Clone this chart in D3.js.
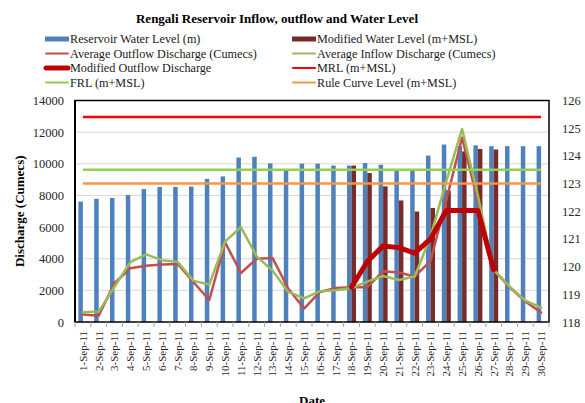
<!DOCTYPE html>
<html>
<head>
<meta charset="utf-8">
<script src="https://cdn.jsdelivr.net/npm/d3@7"></script>
<style>
  body { margin: 0; background: #fff; }
  svg { display: block; font-family: "Liberation Serif", "Times New Roman", serif; }
</style>
</head>
<body>
<div id="chart"></div>
<script>
// categories
var dates = ["1-Sep-11","2-Sep-11","3-Sep-11","4-Sep-11","5-Sep-11","6-Sep-11","7-Sep-11","8-Sep-11","9-Sep-11","10-Sep-11",
  "11-Sep-11","12-Sep-11","13-Sep-11","14-Sep-11","15-Sep-11","16-Sep-11","17-Sep-11","18-Sep-11","19-Sep-11","20-Sep-11",
  "21-Sep-11","22-Sep-11","23-Sep-11","24-Sep-11","25-Sep-11","26-Sep-11","27-Sep-11","28-Sep-11","29-Sep-11","30-Sep-11"];

// right axis (m+MSL)
var waterLevel = [122.35,122.45,122.48,122.59,122.80,122.88,122.88,122.89,123.17,123.26,
  123.94,123.97,123.73,123.48,123.72,123.72,123.65,123.65,123.74,123.68,
  123.50,123.48,124.01,124.41,124.35,124.38,124.35,124.35,124.35,124.35];
var modifiedLevel = [null,null,null,null,null,null,null,null,null,null,
  null,null,null,null,null,null,null,123.65,123.38,122.90,
  122.39,121.99,122.12,122.75,124.16,124.25,124.23,null,null,null];
var mrl = 125.4, frl = 123.5, ruleCurve = 123.0;

// left axis (cumecs)
var outflow = [480,400,2450,3400,3550,3630,3670,2510,1390,5030,
  3100,4000,4050,2100,850,1900,2150,2200,2200,3200,
  3130,2880,3850,7700,11650,7600,3300,2200,1300,600];
var inflow = [620,660,2230,3780,4270,3910,3800,2600,2370,5090,
  6000,4150,3250,1900,1500,1950,2000,2150,2550,2910,
  2660,2880,5400,8900,12200,8000,3300,2250,1350,900];
var modifiedOutflow = [null,null,null,null,null,null,null,null,null,null,
  null,null,null,null,null,null,null,2200,3820,4810,
  4700,4350,5250,7050,7050,7050,3300,null,null,null];

var leftTicks = [0,2000,4000,6000,8000,10000,12000,14000];
var rightTicks = [118,119,120,121,122,123,124,125,126];

var W = 585, H = 403;
var mLeft = 75, mRight = 549, mTop = 100.5, mBottom = 322;

var svg = d3.select("#chart").append("svg")
  .attr("width", W).attr("height", H);

var x = d3.scaleBand().domain(dates).range([mLeft, mRight]).padding(0);
var yL = d3.scaleLinear().domain([0, 14000]).range([mBottom, mTop]);
var yR = d3.scaleLinear().domain([118, 126]).range([mBottom, mTop]);
var bw = x.bandwidth() * 0.285;
function cx(d) { return x(d) + x.bandwidth() / 2; }

// gridlines
svg.append("g").selectAll("line")
  .data(leftTicks.slice(1, -1))
  .enter().append("line")
  .attr("x1", mLeft).attr("x2", mRight)
  .attr("y1", function(d) { return yL(d); })
  .attr("y2", function(d) { return yL(d); })
  .attr("stroke", "#d9d9d9").attr("stroke-width", 1);

// bars
svg.append("g").selectAll("rect")
  .data(waterLevel)
  .enter().append("rect")
  .attr("x", function(d, i) { return cx(dates[i]) - bw; })
  .attr("y", function(d) { return yR(d); })
  .attr("width", bw)
  .attr("height", function(d) { return mBottom - yR(d); })
  .attr("fill", "#4f81bd");

svg.append("g").selectAll("rect")
  .data(modifiedLevel.map(function(d, i) { return {v: d, i: i}; }).filter(function(d) { return d.v !== null; }))
  .enter().append("rect")
  .attr("x", function(d) { return cx(dates[d.i]); })
  .attr("y", function(d) { return yR(d.v); })
  .attr("width", bw)
  .attr("height", function(d) { return mBottom - yR(d.v); })
  .attr("fill", "#772c2a");

// lines
function seriesLine(vals, color, width) {
  var line = d3.line()
    .defined(function(d) { return d !== null; })
    .x(function(d, i) { return cx(dates[i]); })
    .y(function(d) { return yL(d); });
  svg.append("path")
    .datum(vals)
    .attr("d", line)
    .attr("fill", "none")
    .attr("stroke", color)
    .attr("stroke-width", width)
    .attr("stroke-linejoin", "round")
    .attr("stroke-linecap", "round");
}
seriesLine(outflow, "#c0504d", 2.5);
seriesLine(inflow, "#9bbb59", 2.5);
seriesLine(modifiedOutflow, "#c00000", 5);

function levelLine(v, color) {
  svg.append("line")
    .attr("x1", cx(dates[0])).attr("x2", cx(dates[dates.length - 1]))
    .attr("y1", yR(v)).attr("y2", yR(v))
    .attr("stroke", color).attr("stroke-width", 2.5);
}
levelLine(mrl, "#ff0000");
levelLine(frl, "#92d050");
levelLine(ruleCurve, "#f79646");

// frame
svg.append("rect")
  .attr("x", mLeft).attr("y", mTop)
  .attr("width", mRight - mLeft).attr("height", mBottom - mTop)
  .attr("fill", "none").attr("stroke", "#000").attr("stroke-width", 1.5);
svg.append("line")
  .attr("x1", mLeft).attr("x2", mLeft).attr("y1", mTop).attr("y2", mBottom)
  .attr("stroke", "#000").attr("stroke-width", 2);

// axes
var xAxis = svg.append("g")
  .attr("transform", "translate(0," + mBottom + ")")
  .call(d3.axisBottom(x).tickSize(0).tickPadding(0));
xAxis.select(".domain").remove();
xAxis.selectAll("text")
  .attr("transform", "rotate(-90)")
  .attr("x", -9).attr("y", 0).attr("dy", "0.35em")
  .style("text-anchor", "end")
  .attr("font-size", 11).attr("fill", "#262626")
  .attr("font-family", "Liberation Serif");
svg.append("g").selectAll("line")
  .data(d3.range(dates.length + 1))
  .enter().append("line")
  .attr("x1", function(k) { return mLeft + k * x.bandwidth(); })
  .attr("x2", function(k) { return mLeft + k * x.bandwidth(); })
  .attr("y1", mBottom).attr("y2", mBottom + 5)
  .attr("stroke", "#a6a6a6");

var yAxisL = svg.append("g")
  .attr("transform", "translate(" + mLeft + ",0)")
  .call(d3.axisLeft(yL).tickValues(leftTicks).tickSize(0).tickPadding(11).tickFormat(d3.format("d")));
yAxisL.select(".domain").remove();
yAxisL.selectAll("text").attr("font-size", 12.5).attr("fill", "#262626").attr("font-family", "Liberation Serif");

var yAxisR = svg.append("g")
  .attr("transform", "translate(" + mRight + ",0)")
  .call(d3.axisRight(yR).tickValues(rightTicks).tickSize(0).tickPadding(13).tickFormat(d3.format("d")));
yAxisR.select(".domain").remove();
yAxisR.selectAll("text").attr("font-size", 12.5).attr("fill", "#262626").attr("font-family", "Liberation Serif");

// titles
svg.append("text")
  .attr("x", 277).attr("y", 23)
  .attr("text-anchor", "middle")
  .attr("font-size", 13).attr("font-weight", "bold")
  .text("Rengali Reservoir Inflow, outflow and Water Level");

svg.append("text")
  .attr("transform", "translate(24," + ((mTop + mBottom) / 2) + ") rotate(-90)")
  .attr("text-anchor", "middle")
  .attr("font-size", 13).attr("font-weight", "bold")
  .text("Discharge (Cumecs)");

svg.append("text")
  .attr("x", (mLeft + mRight) / 2).attr("y", 405)
  .attr("text-anchor", "middle")
  .attr("font-size", 13).attr("font-weight", "bold")
  .text("Date");

// legend
var legend = [
  {name: "Reservoir Water Level (m)", type: "rect", color: "#4f81bd", col: 0, row: 0},
  {name: "Modified Water Level (m+MSL)", type: "rect", color: "#772c2a", col: 1, row: 0},
  {name: "Average Outflow Discharge (Cumecs)", type: "line", color: "#c0504d", w: 2, col: 0, row: 1},
  {name: "Average Inflow Discharge (Cumecs)", type: "line", color: "#9bbb59", w: 2, col: 1, row: 1},
  {name: "Modified Outflow Discharge", type: "line", color: "#c00000", w: 5, col: 0, row: 2},
  {name: "MRL (m+MSL)", type: "line", color: "#ff0000", w: 2, col: 1, row: 2},
  {name: "FRL (m+MSL)", type: "line", color: "#92d050", w: 2, col: 0, row: 3},
  {name: "Rule Curve Level (m+MSL)", type: "line", color: "#f79646", w: 2, col: 1, row: 3}
];
var lg = svg.append("g").selectAll("g")
  .data(legend)
  .enter().append("g")
  .attr("transform", function(d) { return "translate(" + (d.col ? 292 : 45) + "," + (39 + d.row * 14.5) + ")"; });
lg.each(function(d) {
  var g = d3.select(this);
  if (d.type === "rect") {
    g.append("rect").attr("x", 0).attr("y", -2.5).attr("width", 24).attr("height", 5).attr("fill", d.color);
  } else {
    g.append("line").attr("x1", 1).attr("x2", 23).attr("y1", 0).attr("y2", 0)
      .attr("stroke", d.color).attr("stroke-width", d.w).attr("stroke-linecap", "round");
  }
  g.append("text").attr("x", 25).attr("y", 0).attr("dy", "0.35em")
    .attr("font-size", 12.2).attr("fill", "#1a1a1a").text(d.name);
});
</script>
</body>
</html>
